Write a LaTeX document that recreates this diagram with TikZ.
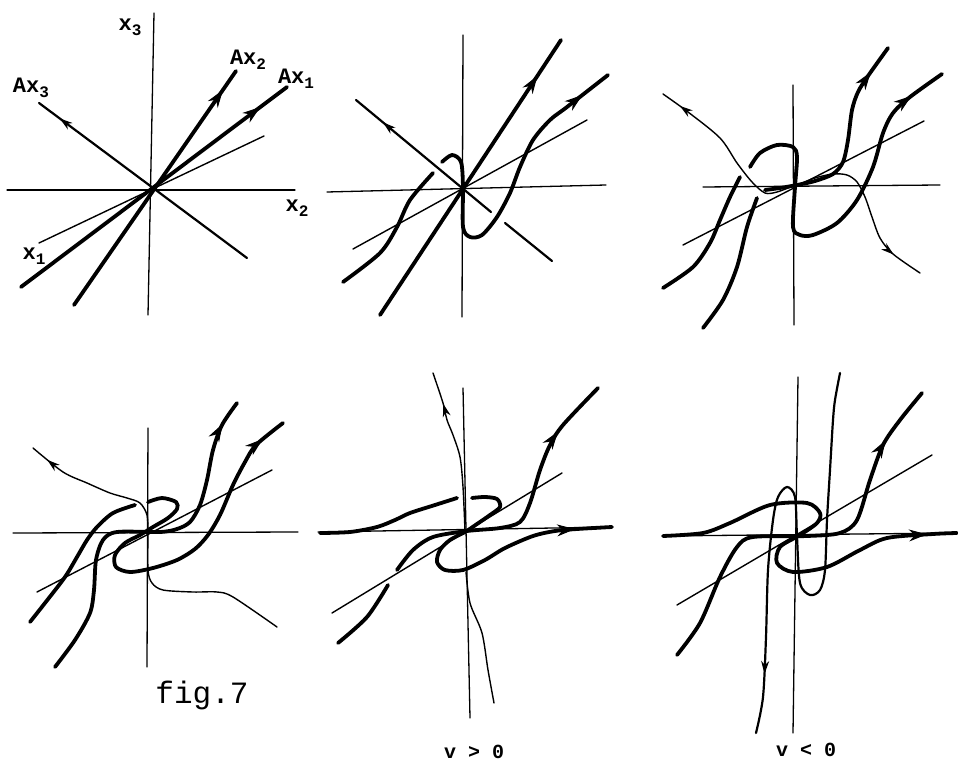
\documentclass[tikz,border=0pt]{standalone}
\usepackage{fontspec}
\setmonofont{Liberation Mono}
\usetikzlibrary{arrows.meta, decorations.markings}

\newcommand{\lowidx}[1]{\raisebox{-0.45ex}{\fontsize{16}{16}\selectfont #1}}

\begin{document}
\begin{tikzpicture}[x=1pt, y=-1pt, line cap=round, line join=round,
    axis/.style={line width=1.3pt},
    fine/.style={line width=1.4pt},
    mid/.style={line width=2.2pt},
    heavy/.style={line width=3.8pt},
    tip/.style={postaction={decorate, decoration={markings,
      mark=at position #1 with {\arrow[line width=1pt]{Stealth[length=18pt, width=12pt]}}}}},
    stip/.style={postaction={decorate, decoration={markings,
      mark=at position #1 with {\arrow[line width=1pt]{Stealth[length=13pt, width=8pt]}}}}},
    lab/.style={font=\ttfamily\bfseries\fontsize{22}{22}\selectfont, inner sep=0pt},
    note/.style={font=\ttfamily\bfseries\fontsize{20}{20}\selectfont, inner sep=0pt}]
    \useasboundingbox (0,0) rectangle (958,767);

    % --- panel 1: the eigen-directions ---
    \draw[axis] (154,13) -- (148,315);
    \draw[axis] (7,190) -- (295,190);
    \draw[fine] (39,243) -- (264,136);
    \draw[mid, stip=0.9] (247,258) -- (39,103);
    \draw[heavy, tip=0.92] (74,305) -- (236,71);
    \draw[heavy, tip=0.9] (21,287) -- (287,87);
    \node[lab] (lx3) at (130,27) {x\lowidx{3}};
    \node[lab] (lx2) at (297,208) {x\lowidx{2}};
    \node[lab] (lx1) at (34,256) {x\lowidx{1}};
    \node[lab] (lax3) at (31,88) {Ax\lowidx{3}};
    \node[lab] (lax2) at (248,60) {Ax\lowidx{2}};
    \node[lab] (lax1) at (296,79) {Ax\lowidx{1}};

    % --- panel 2 ---
    \draw[axis] (463,35) -- (462,317);
    \draw[axis] (327,192) -- (606,185);
    \draw[fine] (353,249) -- (587,120);
    \draw[mid, stip=0.8] (491,212) -- (356,100);
    \draw[mid] (505,223) -- (552,261);
    \draw[heavy, tip=0.87] (380,315) -- (561,40);
    \draw[heavy] plot[smooth] coordinates {(343,282) (380,253) (397,227) (410,200) (433,173)};
    \draw[heavy, tip=0.9] plot[smooth] coordinates {(442,162) (452,155) (461,162) (463,187)
      (463,227) (470,237) (482,235) (497,217) (510,193) (520,167) (533,140) (550,120)
      (567,107) (608,75)};

    % --- panel 3 ---
    \draw[axis] (793,85) -- (794,325);
    \draw[axis] (703,187) -- (940,185);
    \draw[fine] (683,245) -- (924,121);
    \draw[fine, stip=0.88] plot[smooth] coordinates {(793,186) (777,192) (765,193) (752,182)
      (737,163) (720,138) (688,112) (663,94)};
    \draw[fine, stip=0.82] plot[smooth] coordinates {(797,185) (815,178) (833,174) (847,175)
      (857,182) (865,197) (872,217) (880,238) (893,254) (920,273)};
    \draw[heavy, tip=0.86] plot[smooth] coordinates {(765,190) (780,188) (797,185) (815,181)
      (833,174) (843,162) (848,140) (852,110) (858,92) (868,76) (888,48)};
    \draw[heavy, tip=0.9] plot[smooth] coordinates {(750,167) (760,153) (777,145) (793,147)
      (797,157) (795,187) (793,227) (800,235) (813,235) (837,223) (857,200) (873,167)
      (883,133) (893,113) (910,97) (942,74)};
    \draw[heavy] plot[smooth] coordinates {(663,288) (693,267) (710,243) (720,220)
      (730,197) (740,177)};
    \draw[heavy] plot[smooth] coordinates {(703,328) (723,300) (737,267) (747,227) (757,198)};

    % --- panel 4 ---
    \draw[axis] (148,428) -- (147,667);
    \draw[axis] (13,533) -- (298,532);
    \draw[fine] (37,592) -- (272,470);
    \draw[fine, stip=0.88] plot[smooth] coordinates {(148,533) (147,515) (140,503) (127,498)
      (110,493) (87,483) (63,472) (33,448)};
    \draw[fine] plot[smooth] coordinates {(148,533) (148,570) (152,583) (163,590) (193,592)
      (217,592) (233,597) (277,627)};
    \draw[heavy, tip=0.93] plot[smooth] coordinates {(55,667) (75,640) (90,613) (94,590)
      (96,560) (103,540) (117,532) (160,532) (177,529) (190,522) (200,505) (207,480)
      (213,450) (222,425) (237,403)};
    \draw[heavy, tip=0.93] plot[smooth] coordinates {(148,502) (162,498) (176,502) (177,509)
      (168,518) (153,527) (140,535) (125,543) (115,555) (116,567) (130,572) (153,568)
      (177,560) (195,549) (208,535) (220,515) (233,485) (245,462) (256,445) (283,423)};
    \draw[heavy] plot[smooth] coordinates {(135,505) (113,513) (97,527) (87,540) (77,557)
      (65,577) (45,603) (30,622)};
    \node[font=\ttfamily\fontsize{31}{31}\selectfont, inner sep=0pt] (cap) at (202,695) {fig.7};

    % --- panel 5: v > 0 ---
    \draw[axis] (463,388) -- (470,718);
    \draw[axis] (318,532) -- (612,527);
    \draw[fine] (332,613) -- (562,473);
    \draw[fine, stip=0.8] plot[smooth] coordinates {(465,531) (463,487) (460,457) (453,435)
      (447,420) (443,403) (433,373)};
    \draw[fine] plot[smooth] coordinates {(466,572) (470,603) (482,633) (488,670) (494,703)};
    \draw[heavy] plot[smooth] coordinates {(320,533) (350,532) (377,527) (395,520) (410,513)
      (435,505) (457,498)};
    \draw[heavy, tip=0.88] plot[smooth] coordinates {(472,498) (485,497) (497,499) (500,507)
      (490,515) (477,524) (465,532) (450,540) (440,550) (437,562) (445,570) (463,570)
      (485,560) (505,548) (533,536) (555,531) (577,529) (612,527)};
    \draw[heavy, tip=0.8] plot[smooth] coordinates {(397,570) (413,550) (433,537) (467,531)
      (500,528) (520,522) (530,503) (540,470) (550,445) (563,425) (598,388)};
    \draw[heavy] plot[smooth] coordinates {(388,585) (367,617) (338,643)};
    \node[note] (vpos) at (474,752) {v > 0};

    % --- panel 6: v < 0 ---
    \draw[axis] (798,377) -- (793,733);
    \draw[axis] (663,536) -- (957,533);
    \draw[fine] (677,605) -- (932,455);
    \draw[mid, stip=0.9] plot[smooth] coordinates {(840,373) (835,400) (833,420) (830,470)
      (827,520) (825,570) (820,590) (810,595) (800,583) (797,537) (795,497) (787,487)
      (778,497) (773,520) (768,570) (766,637) (763,697) (756,733)};
    \draw[heavy, tip=0.93] plot[smooth] coordinates {(663,536) (703,533) (730,523) (770,505)
      (807,503) (820,513) (817,523) (800,535) (780,547) (777,563) (793,572) (827,567)
      (860,550) (887,538) (933,534) (957,533)};
    \draw[heavy, tip=0.85] plot[smooth] coordinates {(677,655) (700,623) (720,577) (737,547)
      (753,537) (807,536) (840,533) (857,520) (870,480) (883,445) (900,420) (922,393)};
    \node[note] (vneg) at (806,750) {v < 0};
\end{tikzpicture}
\end{document}
